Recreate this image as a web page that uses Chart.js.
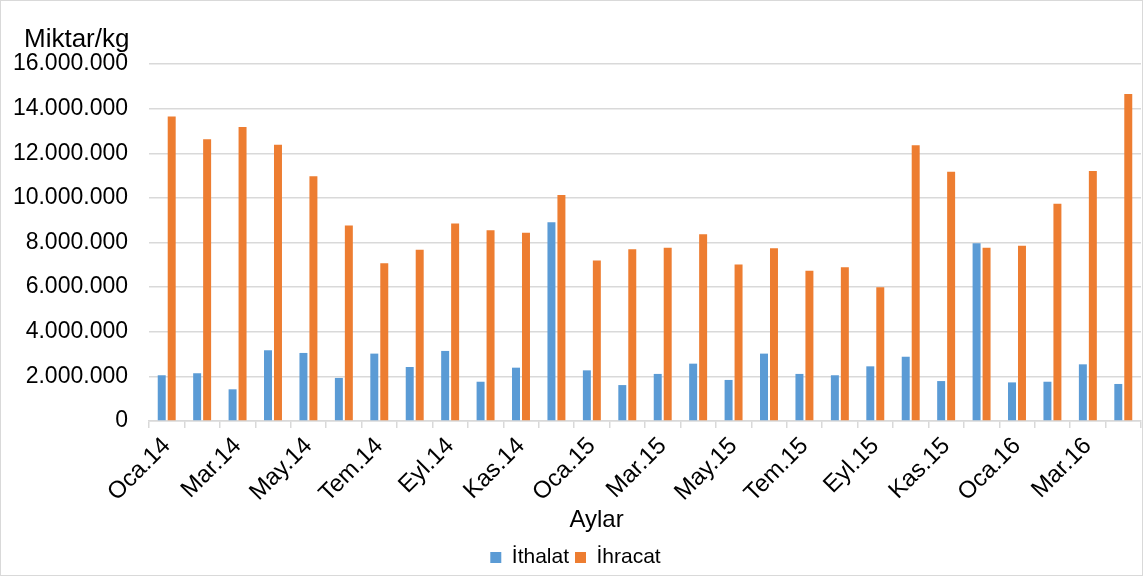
<!DOCTYPE html>
<html lang="tr">
<head>
<meta charset="utf-8">
<title>İthalat / İhracat</title>
<script src="https://cdn.jsdelivr.net/npm/chart.js@4/dist/chart.umd.min.js"></script>
<style>
  html, body { margin: 0; padding: 0; background: #fff; }
  #wrap {
    width: 1143px; height: 576px;
    box-sizing: border-box;
    border: 1px solid #d9d9d9;
    position: relative;
  }
</style>
</head>
<body>
<div id="wrap"><canvas id="chart"></canvas></div>
<script>
// Aylık ithalat / ihracat miktarları (kg)
const months = [
  'Oca.14','Şub.14','Mar.14','Nis.14','May.14','Haz.14','Tem.14','Ağu.14','Eyl.14','Eki.14','Kas.14','Ara.14',
  'Oca.15','Şub.15','Mar.15','Nis.15','May.15','Haz.15','Tem.15','Ağu.15','Eyl.15','Eki.15','Kas.15','Ara.15',
  'Oca.16','Şub.16','Mar.16','Nis.16'
];
const ithalat = [
  2050000, 2140000, 1420000, 3170000, 3050000, 1930000, 3020000, 2420000, 3140000, 1760000, 2390000, 8910000,
  2270000, 1610000, 2110000, 2570000, 1840000, 3020000, 2110000, 2050000, 2450000, 2880000, 1790000, 7970000,
  1730000, 1760000, 2540000, 1660000
];
const ihracat = [
  13650000, 12630000, 13180000, 12380000, 10970000, 8760000, 7070000, 7670000, 8850000, 8550000, 8440000, 10130000,
  7190000, 7700000, 7760000, 8370000, 7010000, 7740000, 6730000, 6890000, 6000000, 12360000, 11170000, 7760000,
  7850000, 9740000, 11200000, 14660000
];
const yTicks = [0, 2000000, 4000000, 6000000, 8000000, 10000000, 12000000, 14000000, 16000000];

const Y_TITLE = 'Miktar/kg';
const X_TITLE = 'Aylar';
const FONT = '"Liberation Sans", Arial, sans-serif';
const GRID = '#d9d9d9';

// 16000000 -> 16.000.000
const fmt = v => String(v).replace(/\B(?=(\d{3})+(?!\d))/g, '.');

// axis captions sit where Excel put them, not where Chart.js would
const captions = {
  id: 'captions',
  afterDraw(chart) {
    const { ctx } = chart;
    const x = chart.scales.x;
    ctx.save();
    ctx.fillStyle = '#000';
    ctx.textBaseline = 'alphabetic';
    ctx.font = `26px ${FONT}`;
    ctx.textAlign = 'left';
    ctx.fillText(Y_TITLE, 23, 46);
    ctx.font = `24px ${FONT}`;
    ctx.textAlign = 'center';
    ctx.fillText(X_TITLE, chart.width / 2 + 25, x.bottom - 14);
    ctx.restore();
  }
};

new Chart(document.getElementById('chart'), {
  type: 'bar',
  data: {
    labels: months,
    datasets: [
      { label: 'İthalat', data: ithalat, backgroundColor: '#5b9bd5' },
      { label: 'İhracat', data: ihracat, backgroundColor: '#ed7d31' }
    ]
  },
  options: {
    responsive: true,
    maintainAspectRatio: false,
    animation: false,
    datasets: { bar: { categoryPercentage: 0.563, barPercentage: 0.8 } },
    layout: { padding: { top: 63, left: 9, right: 1, bottom: -3 } },
    plugins: {
      tooltip: { enabled: false },
      legend: {
        position: 'bottom',
        labels: {
          color: '#000',
          font: { family: FONT, size: 21 },
          boxWidth: 11, boxHeight: 11,
          padding: 6
        }
      }
    },
    scales: {
      x: {
        grid: { display: true, drawOnChartArea: false, drawTicks: true, tickLength: 7, color: GRID, lineWidth: 1.5 },
        border: { display: true, color: GRID, width: 1.5 },
        ticks: {
          autoSkip: false,
          maxRotation: 45, minRotation: 45,
          padding: 4,
          color: '#000',
          font: { family: FONT, size: 24 },
          callback: (v, i) => (i % 2 === 0 ? months[i] : '')
        },
        // the last label is blank, so no room is needed on the right
        afterFit: s => { s.height = 120; s.paddingRight = 0; }
      },
      y: {
        min: 0, max: 16000000,
        afterBuildTicks: s => { s.ticks = yTicks.map(v => ({ value: v })); },
        grid: { color: GRID, lineWidth: 1.5, drawTicks: false },
        border: { display: false },
        ticks: {
          padding: 21,
          color: '#000',
          font: { family: FONT, size: 23 },
          callback: v => fmt(v)
        },
        afterFit: s => { s.width = 139; }
      }
    }
  },
  plugins: [captions]
});
</script>
</body>
</html>
